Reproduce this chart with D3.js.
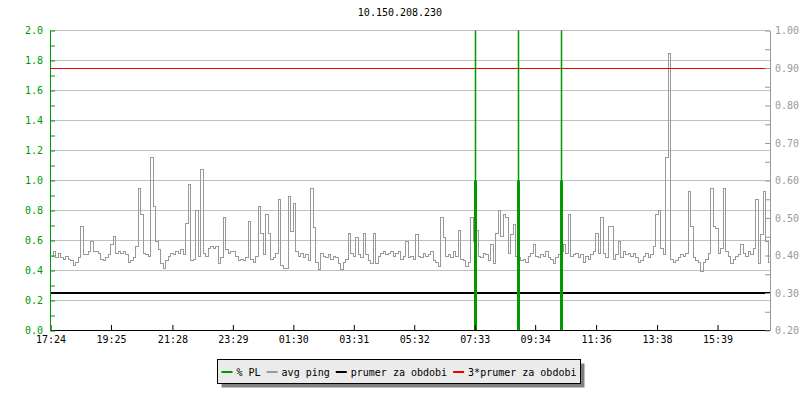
<!DOCTYPE html>
<html>
<head>
<meta charset="utf-8">
<script src="https://cdn.jsdelivr.net/npm/d3@7"></script>
<style>
body { margin: 0; background: #fff; }
text { font-family: "DejaVu Sans Mono", monospace; font-size: 10px; }
</style>
</head>
<body>
<svg width="800" height="400"></svg>
<script>
var title = "10.150.208.230";
var startTime = "17:24";
var stepMinutes = 5;

// avg ping, one value per 5 minutes
var pingValues = [
  0.50, 0.53, 0.49, 0.52, 0.49, 0.48, 0.50, 0.48, 0.47, 0.44, 0.46, 0.49,
  0.70, 0.51, 0.51, 0.53, 0.60, 0.53, 0.53, 0.52, 0.48, 0.47, 0.49, 0.51,
  0.58, 0.63, 0.52, 0.53, 0.52, 0.53, 0.51, 0.46, 0.47, 0.49, 0.56, 0.95,
  0.78, 0.52, 0.51, 0.50, 1.16, 0.83, 0.60, 0.54, 0.45, 0.42, 0.47, 0.50,
  0.52, 0.51, 0.53, 0.52, 0.54, 0.51, 0.72, 0.98, 0.47, 0.48, 0.80, 0.50,
  1.08, 0.52, 0.50, 0.55, 0.56, 0.55, 0.56, 0.45, 0.49, 0.76, 0.54, 0.52,
  0.53, 0.53, 0.50, 0.47, 0.48, 0.47, 0.49, 0.73, 0.48, 0.46, 0.50, 0.83,
  0.65, 0.51, 0.78, 0.65, 0.48, 0.49, 0.52, 0.88, 0.44, 0.42, 0.42, 0.90,
  0.66, 0.85, 0.53, 0.50, 0.52, 0.49, 0.51, 0.47, 0.95, 0.69, 0.46, 0.41,
  0.52, 0.50, 0.49, 0.51, 0.48, 0.50, 0.49, 0.45, 0.41, 0.46, 0.48, 0.65,
  0.52, 0.50, 0.62, 0.51, 0.49, 0.65, 0.51, 0.47, 0.45, 0.65, 0.45, 0.50,
  0.52, 0.53, 0.51, 0.52, 0.53, 0.50, 0.52, 0.53, 0.48, 0.50, 0.60, 0.49,
  0.50, 0.48, 0.64, 0.50, 0.49, 0.52, 0.50, 0.51, 0.53, 0.47, 0.46, 0.43,
  0.76, 0.62, 0.50, 0.51, 0.49, 0.53, 0.50, 0.67, 0.48, 0.47, 0.43, 0.46,
  0.76, 0.60, 0.67, 0.50, 0.49, 0.52, 0.51, 0.47, 0.58, 0.45, 0.65, 0.80,
  0.63, 0.78, 0.76, 0.52, 0.64, 0.71, 0.50, 0.49, 0.47, 0.48, 0.46, 0.50,
  0.52, 0.58, 0.50, 0.49, 0.51, 0.50, 0.53, 0.49, 0.48, 0.45, 0.49, 0.51,
  0.53, 0.58, 0.52, 0.78, 0.50, 0.51, 0.52, 0.49, 0.51, 0.46, 0.50, 0.48,
  0.51, 0.53, 0.65, 0.52, 0.76, 0.52, 0.49, 0.70, 0.70, 0.48, 0.51, 0.60,
  0.49, 0.53, 0.51, 0.52, 0.50, 0.52, 0.49, 0.46, 0.47, 0.50, 0.52, 0.49,
  0.51, 0.56, 0.78, 0.80, 0.55, 0.51, 1.16, 1.85, 0.48, 0.46, 0.47, 0.49,
  0.51, 0.50, 0.52, 0.93, 0.70, 0.49, 0.47, 0.46, 0.40, 0.46, 0.48, 0.52,
  0.95, 0.70, 0.68, 0.52, 0.55, 0.95, 0.53, 0.50, 0.45, 0.48, 0.50, 0.51,
  0.575, 0.52, 0.50, 0.53, 0.51, 0.55, 0.88, 0.45, 0.64, 0.93, 0.60, 0.46
];

// packet loss events (clipped above the chart)
var plTimes = ["07:34", "08:59", "10:26"];
var plValues = [1.0, 1.0, 1.0];

var prumer = 0.30;
var prumer3 = 0.90;

var xTickLabels = ["17:24", "19:25", "21:28", "23:29", "01:30", "03:31",
                   "05:32", "07:33", "09:34", "11:36", "13:38", "15:39"];
var leftTicks = [0, 0.2, 0.4, 0.6, 0.8, 1.0, 1.2, 1.4, 1.6, 1.8, 2.0];
var leftMinorTicks = [0.1, 0.3, 0.5, 0.7, 0.9, 1.1, 1.3, 1.5, 1.7, 1.9];
var rightTicks = [0.2, 0.3, 0.4, 0.5, 0.6, 0.7, 0.8, 0.9, 1.0];
var rightMinorTicks = [0.25, 0.35, 0.45, 0.55, 0.65, 0.75, 0.85, 0.95];

var legendItems = [
  { label: "% PL", color: "#009900" },
  { label: "avg ping", color: "#999999" },
  { label: "prumer za obdobi", color: "#000000" },
  { label: "3*prumer za obdobi", color: "#ee0000" }
];

var green = "#009900", gray = "#999999";

var svg = d3.select("svg"),
    margin = { top: 30, right: 30, bottom: 70, left: 50 },
    width = +svg.attr("width") - margin.left - margin.right,
    height = +svg.attr("height") - margin.top - margin.bottom;

function toDate(s) {
  var p = s.split(":"), h = +p[0], m = +p[1];
  var s0 = startTime.split(":");
  var day = (h * 60 + m < +s0[0] * 60 + +s0[1]) ? 2 : 1;
  return new Date(2000, 0, day, h, m);
}

var t0 = toDate(startTime);
var t1 = d3.timeMinute.offset(t0, 24 * 60);

var x = d3.scaleTime().domain([t0, t1]).range([0.5, width]);
var y = d3.scaleLinear().domain([0, 2]).range([height + 0.5, 0.5]);
var y2 = d3.scaleLinear().domain([0.2, 1.0]).range([height + 0.5, 0.5]);

var g = svg.append("g")
    .attr("transform", "translate(" + margin.left + "," + margin.top + ")");

svg.append("text")
    .attr("x", 400)
    .attr("y", 16)
    .attr("text-anchor", "middle")
    .attr("fill", "#000")
    .text(title);

// grid
g.append("g")
    .selectAll("line")
    .data(leftTicks.slice(1))
    .enter().append("line")
    .attr("x1", 0).attr("x2", width)
    .attr("y1", function (d) { return y(d); })
    .attr("y2", function (d) { return y(d); })
    .attr("stroke", "#c0c0c0")
    .attr("shape-rendering", "crispEdges");

// avg ping
var pingData = pingValues.map(function (v, i) {
  return { date: d3.timeMinute.offset(t0, i * stepMinutes), value: v };
});
pingData.push({ date: t1, value: pingValues[pingValues.length - 1] });

var pingLine = d3.line()
    .curve(d3.curveStepAfter)
    .x(function (d) { return Math.round(x(d.date)) + 0.5; })
    .y(function (d) { return Math.round(y(d.value)) + 0.5; });

g.append("path")
    .datum(pingData)
    .attr("fill", "none")
    .attr("stroke", gray)
    .attr("stroke-width", 1)
    .attr("shape-rendering", "crispEdges")
    .attr("d", pingLine);

// prumer lines (right axis)
g.append("line")
    .attr("x1", 0).attr("x2", width)
    .attr("y1", y2(prumer)).attr("y2", y2(prumer))
    .attr("stroke", "#000").attr("stroke-width", 2);

g.append("line")
    .attr("x1", 0).attr("x2", width)
    .attr("y1", y2(prumer3)).attr("y2", y2(prumer3))
    .attr("stroke", "#ee0000").attr("stroke-width", 1)
    .attr("shape-rendering", "crispEdges");

// packet loss
var pl = g.append("g").selectAll("g")
    .data(plTimes.map(function (t, i) { return { date: toDate(t), value: plValues[i] }; }))
    .enter().append("g");

pl.append("line")
    .attr("x1", function (d) { return Math.round(x(d.date)) + 0.5; })
    .attr("x2", function (d) { return Math.round(x(d.date)) + 0.5; })
    .attr("y1", y(2)).attr("y2", y(0))
    .attr("stroke", green).attr("stroke-width", 1.5);

pl.append("rect")
    .attr("x", function (d) { return Math.round(x(d.date)) - 1; })
    .attr("width", 3)
    .attr("y", function (d) { return y(d.value); })
    .attr("height", function (d) { return y(0) - y(d.value); })
    .attr("fill", green);

// axes
var xAxis = g.append("g")
    .attr("transform", "translate(0," + height + ")")
    .call(d3.axisBottom(x)
      .tickValues(xTickLabels.map(toDate))
      .tickFormat(d3.timeFormat("%H:%M"))
      .tickSizeInner(-5).tickSizeOuter(0).tickPadding(6));
xAxis.select(".domain").attr("stroke", "#000").attr("d", "M0,0.5H" + width);
xAxis.selectAll("line").attr("stroke", "#000");
xAxis.selectAll("text").attr("fill", "#000").style("font-size", "10px");

var yAxis = g.append("g")
    .call(d3.axisLeft(y)
      .tickValues(leftTicks)
      .tickFormat(d3.format(".1f"))
      .tickSizeInner(-5).tickSizeOuter(0).tickPadding(7));
yAxis.append("g")
    .call(d3.axisLeft(y).tickValues(leftMinorTicks).tickFormat("").tickSizeInner(-5).tickSizeOuter(0))
    .select(".domain").remove();
yAxis.selectAll(".domain").attr("stroke", green);
yAxis.selectAll("line").attr("stroke", green);
yAxis.selectAll("text").attr("fill", green).style("font-size", "10px");

var yAxis2 = g.append("g")
    .attr("transform", "translate(" + width + ",0)")
    .call(d3.axisRight(y2)
      .tickValues(rightTicks)
      .tickFormat(d3.format(".2f"))
      .tickSizeInner(-5).tickSizeOuter(0).tickPadding(5));
yAxis2.append("g")
    .call(d3.axisRight(y2).tickValues(rightMinorTicks).tickFormat("").tickSizeInner(-5).tickSizeOuter(0))
    .select(".domain").remove();
yAxis2.selectAll(".domain").attr("stroke", gray);
yAxis2.selectAll("line").attr("stroke", gray);
yAxis2.selectAll("text").attr("fill", gray).style("font-size", "10px");

// legend
var legend = svg.append("g").attr("transform", "translate(217.5,359.5)");
var legendW = 363, legendH = 24;
legend.append("rect")
    .attr("x", 4).attr("y", 4)
    .attr("width", legendW).attr("height", legendH)
    .attr("fill", "#808080");
legend.append("rect")
    .attr("width", legendW).attr("height", legendH)
    .attr("fill", "#ebebeb").attr("stroke", "#000");

var lx = 4;
legendItems.forEach(function (d) {
  legend.append("line")
    .attr("x1", lx).attr("x2", lx + 11)
    .attr("y1", 12.5).attr("y2", 12.5)
    .attr("stroke", d.color).attr("stroke-width", 2);
  var t = legend.append("text")
    .attr("x", lx + 15).attr("y", 16)
    .attr("fill", "#000")
    .text(d.label);
  lx += 15 + t.node().getComputedTextLength() + 6;
});
</script>
</body>
</html>
